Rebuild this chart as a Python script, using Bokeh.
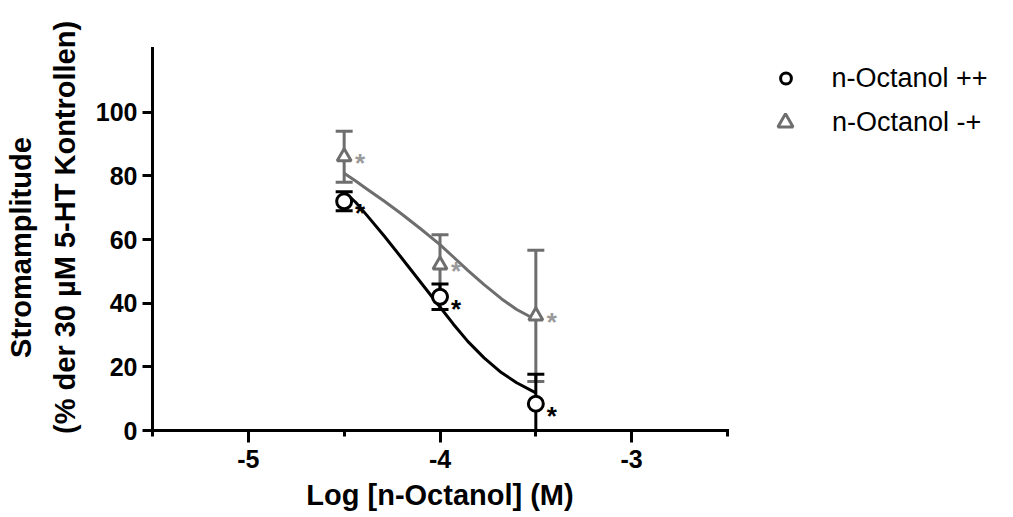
from bokeh.plotting import figure
from bokeh.layouts import row
from bokeh.models import (Range1d, FixedTicker, ColumnDataSource, Whisker, TeeHead,
                          Legend, LegendItem)
from bokeh.embed import file_html
from bokeh.resources import INLINE
from bokeh.core.properties import value

# ---------------- data ----------------
conc_log = [-4.5, -4.0, -3.5]            # log [n-Octanol] (M)
mean_pp = [72.0, 42.0, 8.4]              # n-Octanol ++
sem_pp = [3.0, 4.0, 9.3]
mean_mp = [86.0, 52.0, 36.0]             # n-Octanol -+
sem_mp = [8.0, 9.5, 20.6]

# fitted curves as drawn in the reference
fit_x = [-4.5, -4.44, -4.38, -4.29, -4.2, -4.1, -4.0, -3.93, -3.855, -3.77, -3.68, -3.6, -3.5]
fit_y_pp = [75.0, 71.7, 67.5, 61.0, 54.2, 46.5, 38.8, 33.4, 28.0, 22.8, 18.2, 15.0, 11.8]
fit_y_mp = [80.8, 78.4, 75.8, 72.0, 68.0, 63.3, 58.4, 54.5, 50.3, 45.8, 41.4, 38.0, 34.8]

x_ticks = [-5, -4, -3]
x_minor_ticks = [-5.5, -4.5, -3.5, -2.5]
y_ticks = [0, 20, 40, 60, 80, 100]
series_labels = ["n-Octanol ++", "n-Octanol -+"]
x_title = "Log [n-Octanol] (M)"
y_title_1 = "Stromamplitude"
y_title_2 = "(% der 30 µM 5-HT Kontrollen)"
star = "*"

# ---------------- styles / layout ----------------
FONT = "Liberation Sans"
BLACK = "#000000"
GRAY = "#6e6e6e"
STAR_GRAY = "#9a9a9a"
NB = "\u00a0"

H = 514
MAIN_W, LEG_W = 735, 270

p = figure(width=MAIN_W, height=H, x_range=Range1d(-5.5, -2.5), y_range=Range1d(0, 120),
           output_backend="svg", toolbar_location=None,
           min_border_left=152, min_border_top=48, min_border_right=8,
           min_border_bottom=84)
p.outline_line_color = None
p.grid.visible = False
p.background_fill_color = "white"
p.border_fill_color = "white"

# x axis
xa = p.xaxis[0]
xa.ticker = FixedTicker(ticks=x_ticks, minor_ticks=x_minor_ticks)
xa.major_label_overrides = {t: str(t) for t in x_ticks}
xa.axis_line_width = 3
xa.axis_line_cap = "square"
xa.major_tick_line_width = 3
xa.minor_tick_line_width = 3
xa.major_tick_out = 12
xa.major_tick_in = 0
xa.minor_tick_out = 6
xa.minor_tick_in = 0
xa.major_label_text_font = FONT
xa.major_label_text_font_style = "bold"
xa.major_label_text_font_size = "25px"
xa.major_label_text_color = BLACK
xa.major_label_standoff = 7
xa.axis_label = x_title
xa.axis_label_text_font = FONT
xa.axis_label_text_font_style = "bold"
xa.axis_label_text_font_size = "29px"
xa.axis_label_text_color = BLACK
xa.axis_label_standoff = 8

# y axis
ya = p.yaxis[0]
ya.ticker = FixedTicker(ticks=y_ticks, minor_ticks=[])
ya.axis_line_width = 3
ya.axis_line_cap = "square"
ya.major_tick_line_width = 3
ya.major_tick_out = 10
ya.major_tick_in = 0
ya.minor_tick_line_color = None
ya.major_label_text_font = FONT
ya.major_label_text_font_style = "bold"
ya.major_label_text_font_size = "25px"
ya.major_label_text_color = BLACK
ya.major_label_standoff = 5
ya.axis_label = y_title_1 + NB * 2 + "\n" + NB * 3 + y_title_2
ya.axis_label_text_font = FONT
ya.axis_label_text_font_style = "bold"
ya.axis_label_text_font_size = "29px"
ya.axis_label_text_color = BLACK
ya.axis_label_text_line_height = 1.38
ya.axis_label_standoff = 12

# error bars (mean ± SEM)
def err_source(means, sems):
    return ColumnDataSource(dict(
        x=conc_log, y=means,
        upper=[m + s for m, s in zip(means, sems)],
        lower=[m - s for m, s in zip(means, sems)],
    ))

src_pp = err_source(mean_pp, sem_pp)
src_mp = err_source(mean_mp, sem_mp)

for src, col in ((src_mp, GRAY), (src_pp, BLACK)):
    w = Whisker(base="x", upper="upper", lower="lower", source=src, dimension="height",
                line_color=col, line_width=3,
                upper_head=TeeHead(size=17, line_color=col, line_width=3),
                lower_head=TeeHead(size=17, line_color=col, line_width=3))
    w.level = "underlay"
    p.add_layout(w)

# fitted curves
p.line(fit_x, fit_y_mp, line_color=GRAY, line_width=3, line_join="round")
p.line(fit_x, fit_y_pp, line_color=BLACK, line_width=3, line_join="round")

# symbols
tri_style = dict(marker="triangle", fill_color="white", line_color=GRAY, line_width=3)
cir_style = dict(marker="circle", fill_color="white", line_color=BLACK, line_width=3)
p.scatter("x", "y", source=src_mp, size=14, **tri_style)
p.scatter("x", "y", source=src_pp, size=15, **cir_style)

# significance stars
p.text("x", "y", text=value(star), source=src_pp, x_offset=16, y_offset=12,
       text_font=value(FONT), text_font_size="26px", text_font_style="bold",
       text_color=BLACK, text_align="center", text_baseline="middle")
p.text("x", "y", text=value(star), source=src_mp, x_offset=16, y_offset=6,
       text_font=value(FONT), text_font_size="26px", text_font_style="bold",
       text_color=STAR_GRAY, text_align="center", text_baseline="middle")

# ---------------- legend panel (second figure, no axes) ----------------
# In a row the two frames are aligned, so this frame spans the same rows (48..430).
# Its ranges exclude the data, so the series renderers here only feed the legend.
pl = figure(width=LEG_W, height=H, x_range=Range1d(0, 1), y_range=Range1d(0, 1),
            x_axis_type=None, y_axis_type=None,
            output_backend="svg", toolbar_location=None, min_border=0)
pl.outline_line_color = None
pl.background_fill_color = "white"
pl.border_fill_color = "white"
leg_cir = pl.scatter("x", "y", source=src_pp, size=15, **cir_style)
leg_tri = pl.scatter("x", "y", source=src_mp, size=14, **tri_style)

def make_legend(label, renderer, gw, gh, loc, standoff):
    return Legend(items=[LegendItem(label=label, renderers=[renderer])],
                  location=loc, glyph_width=gw, glyph_height=gh,
                  label_standoff=standoff, padding=0, margin=0, spacing=0,
                  border_line_color=None, background_fill_alpha=0,
                  label_text_font=FONT, label_text_font_size="27px",
                  label_text_color=BLACK)

pl.add_layout(make_legend(series_labels[0], leg_cir, 27, 32, (36.5, 336), 33))
pl.add_layout(make_legend(series_labels[1], leg_tri, 38, 38, (31, 289), 28))

layout = row(p, pl)
open("out.html", "w").write(file_html(layout, INLINE))
